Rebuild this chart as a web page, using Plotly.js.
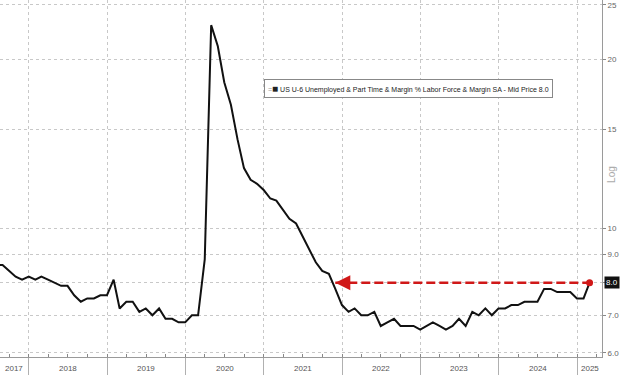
<!DOCTYPE html>
<html>
<head>
<meta charset="utf-8">
<script src="https://cdn.plot.ly/plotly-3.0.1.min.js"></script>
<style>html,body{margin:0;padding:0;background:#fff;}#chart{width:620px;height:375px;}</style>
</head>
<body>
<div id="chart"></div>
<script>
// Monthly observations (month of release reference)
const months = [
  "2017-07","2017-08","2017-09","2017-10","2017-11","2017-12",
  "2018-01","2018-02","2018-03","2018-04","2018-05","2018-06","2018-07","2018-08","2018-09","2018-10","2018-11","2018-12",
  "2019-01","2019-02","2019-03","2019-04","2019-05","2019-06","2019-07","2019-08","2019-09","2019-10","2019-11","2019-12",
  "2020-01","2020-02","2020-03","2020-04","2020-05","2020-06","2020-07","2020-08","2020-09","2020-10","2020-11","2020-12",
  "2021-01","2021-02","2021-03","2021-04","2021-05","2021-06","2021-07","2021-08","2021-09","2021-10","2021-11","2021-12",
  "2022-01","2022-02","2022-03","2022-04","2022-05","2022-06","2022-07","2022-08","2022-09","2022-10","2022-11","2022-12",
  "2023-01","2023-02","2023-03","2023-04","2023-05","2023-06","2023-07","2023-08","2023-09","2023-10","2023-11","2023-12",
  "2024-01","2024-02","2024-03","2024-04","2024-05","2024-06","2024-07","2024-08","2024-09","2024-10","2024-11","2024-12",
  "2025-01","2025-02"
];
const u6 = [
  8.6, 8.6, 8.4, 8.2, 8.1, 8.2,
  8.1, 8.2, 8.1, 8.0, 7.9, 7.9, 7.6, 7.4, 7.5, 7.5, 7.6, 7.6,
  8.1, 7.2, 7.4, 7.4, 7.1, 7.2, 7.0, 7.2, 6.9, 6.9, 6.8, 6.8,
  7.0, 7.0, 8.8, 23.0, 21.1, 18.2, 16.6, 14.4, 12.8, 12.2, 12.0, 11.7,
  11.3, 11.2, 10.8, 10.4, 10.2, 9.7, 9.2, 8.7, 8.4, 8.3, 7.8, 7.3,
  7.1, 7.2, 7.0, 7.0, 7.1, 6.7, 6.8, 6.9, 6.7, 6.7, 6.7, 6.6,
  6.7, 6.8, 6.7, 6.6, 6.7, 6.9, 6.7, 7.1, 7.0, 7.2, 7.0, 7.2,
  7.2, 7.3, 7.3, 7.4, 7.4, 7.4, 7.8, 7.8, 7.7, 7.7, 7.7, 7.5,
  7.5, 8.0
];
const yearLabels = ["2017","2018","2019","2020","2021","2022","2023","2024","2025"];
const yTickVals = [6, 7, 8, 9, 10, 15, 20, 25];
const yTickText = ["6.0","7.0","8.0","9.0","10","15","20","25"];
const seriesName = "US U-6 Unemployed & Part Time & Margin % Labor Force & Margin SA - Mid Price";

// Bloomberg plots monthly values at month end
function monthEnd(s) {
  const [y, m] = s.split("-").map(Number);
  const d = new Date(Date.UTC(y, m, 0));
  return d.toISOString().slice(0, 10);
}
const dates = months.map(monthEnd);
const last = u6[u6.length - 1];
const lastDate = dates[dates.length - 1];
const peakIdx = u6.indexOf(Math.max(...u6));
let arrowIdx = peakIdx;
for (let i = peakIdx; i < u6.length; i++) { if (u6[i] <= last) { arrowIdx = i; break; } }
const arrowDate = dates[arrowIdx];
// the last-value badge replaces the matching tick label
const shownTickText = yTickText.map((t, i) => yTickVals[i] === last ? "" : t);

const xRange = ["2017-08-19", "2025-04-27"];
const toMs = s => new Date(s + "T00:00:00Z").getTime();
const yearStarts = yearLabels.slice(1).map(y => y + "-01-01");
const labelAnns = yearLabels.map(y => {
  const a = Math.max(toMs(y + "-01-01"), toMs(xRange[0]));
  const b = Math.min(toMs((+y + 1) + "-01-01"), toMs(xRange[1]));
  const c = new Date((a + b) / 2).toISOString().slice(0, 10);
  return {x: c, xref: "x", y: 0, yref: "paper", yanchor: "middle", yshift: -11,
    text: y, showarrow: false, font: {size: 8, color: "#555"}};
});

const traces = [
  {x: dates, y: u6, type: "scatter", mode: "lines",
   line: {color: "#111", width: 2}, hoverinfo: "x+y", showlegend: false},
  {x: [arrowDate, lastDate], y: [last, last], type: "scatter", mode: "lines",
   line: {color: "#d01818", width: 2.5, dash: "9px,4px"}, showlegend: false, hoverinfo: "skip"},
  {x: [lastDate], y: [last], type: "scatter", mode: "markers",
   marker: {color: "#d01818", size: 7}, showlegend: false, hoverinfo: "skip"}
];

const layout = {
  width: 620, height: 375,
  margin: {l: 0, r: 18, t: 0, b: 18, pad: 0},
  paper_bgcolor: "#fff", plot_bgcolor: "#fff",
  font: {family: "Liberation Sans, Arial, sans-serif", size: 8, color: "#555"},
  showlegend: false,
  xaxis: {
    type: "date", range: xRange,
    tickvals: yearStarts, ticktext: yearStarts.map(() => ""),
    showgrid: true, gridcolor: "#c8c8c8", griddash: "dot", gridwidth: 1,
    showline: true, linecolor: "#9a9a9a", linewidth: 1,
    ticks: "outside", ticklen: 18, tickcolor: "#b0b0b0", tickwidth: 1,
    minor: {dtick: "M3", tick0: "2017-01-01", ticks: "inside", ticklen: 3, tickcolor: "#888", showgrid: false},
    zeroline: false, fixedrange: true
  },
  yaxis: {
    type: "log", side: "right",
    range: [Math.log10(5.9), Math.log10(25.5)],
    tickvals: yTickVals, ticktext: shownTickText,
    showgrid: true, gridcolor: "#c8c8c8", griddash: "dot", gridwidth: 1,
    showline: true, linecolor: "#9a9a9a", linewidth: 1,
    ticks: "outside", ticklen: 3, tickcolor: "#888",
    tickfont: {size: 8, color: "#666"},
    zeroline: false, fixedrange: true
  },
  annotations: labelAnns.concat([
    {x: arrowDate, y: Math.log10(last), xref: "x", yref: "y", ax: 14, ay: 0, axref: "pixel", ayref: "pixel",
     showarrow: true, arrowhead: 2, arrowsize: 1.2, arrowwidth: 2.5, arrowcolor: "#d01818", text: ""},
    {x: 1, xref: "paper", xanchor: "left", xshift: 2, y: Math.log10(last), yref: "y", yanchor: "middle",
     text: last.toFixed(1), showarrow: false, bgcolor: "#111", borderpad: 1,
     font: {size: 8, color: "#fff"}},
    {x: 1, xref: "paper", xanchor: "center", xshift: 10, y: 0.51, yref: "paper", yanchor: "middle",
     text: "Log", textangle: -90, showarrow: false, font: {size: 10, color: "#aaa"}},
    {x: 0.4385, xref: "paper", xanchor: "left", y: 0.752, yref: "paper", yanchor: "middle",
     text: "<span style='color:#999'>=</span><span style='font-size:10px'>■</span> " + seriesName + " " + last.toFixed(1),
     showarrow: false, bgcolor: "#fff", bordercolor: "#888", borderwidth: 1, borderpad: 3,
     font: {size: 7, color: "#222"}}
  ])
};

Plotly.newPlot("chart", traces, layout, {displayModeBar: false, staticPlot: true});
</script>
</body>
</html>
